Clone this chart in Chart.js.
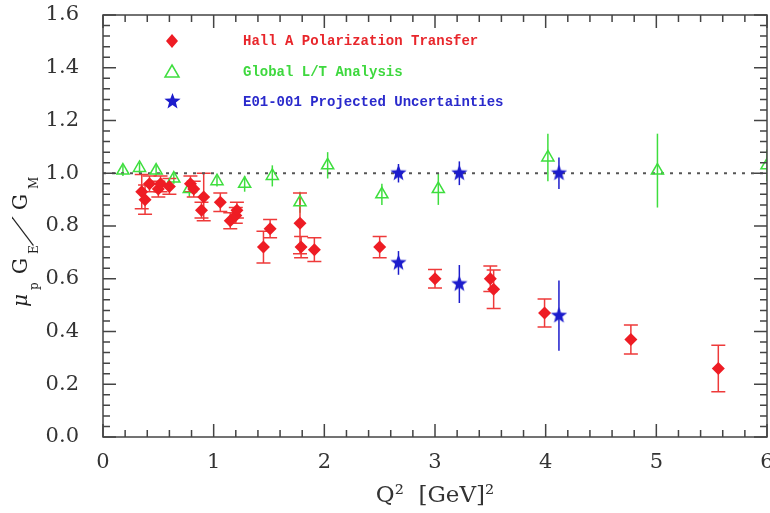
<!DOCTYPE html>
<html>
<head>
<meta charset="utf-8">
<script src="https://cdn.jsdelivr.net/npm/chart.js@4"></script>
<style>
  body { margin: 0; background: #fff; }
  #wrap { width: 770px; height: 513px; }
</style>
</head>
<body>
<div id="wrap"><canvas id="ratioChart" width="770" height="513"></canvas></div>
<script>
// Hall A polarization transfer (red diamonds)
const hallQ2    = [0.35, 0.38, 0.42, 0.50, 0.52, 0.60, 0.79, 0.82, 0.89, 0.91, 1.06, 1.15, 1.20, 1.21, 1.45, 1.51, 1.78, 1.79, 1.91, 2.50, 3.00, 3.50, 3.53, 3.99, 4.77, 5.56];
const hallRatio = [0.93, 0.90, 0.96, 0.94, 0.96, 0.95, 0.96, 0.94, 0.86, 0.91, 0.89, 0.82, 0.84, 0.86, 0.72, 0.79, 0.81, 0.72, 0.71, 0.72, 0.60, 0.60, 0.56, 0.47, 0.37, 0.26];
const hallErr   = [0.065, 0.055, 0.03, 0.03, 0.03, 0.03, 0.03, 0.03, 0.03, 0.09, 0.035, 0.03, 0.03, 0.03, 0.06, 0.035, 0.115, 0.04, 0.045, 0.04, 0.035, 0.048, 0.073, 0.053, 0.055, 0.088];

// Global L/T analysis (green open triangles)
const ltQ2    = [0.18, 0.33, 0.48, 0.64, 0.78, 1.03, 1.28, 1.53, 1.78, 2.03, 2.52, 3.03, 4.02, 5.01, 6.00];
const ltRatio = [1.01, 1.02, 1.01, 0.98, 0.94, 0.97, 0.96, 0.99, 0.89, 1.03, 0.92, 0.94, 1.06, 1.01, 1.03];
const ltErr   = [0.02, 0.02, 0.02, 0.02, 0.03, 0.02, 0.03, 0.04, 0.04, 0.05, 0.04, 0.06, 0.09, 0.14, 0.06];

// E01-001 projected uncertainties (blue stars)
const projQ2    = [2.67, 3.22, 4.12, 2.67, 3.22, 4.12];
const projRatio = [1.00, 1.00, 1.00, 0.66, 0.58, 0.46];
const projErr   = [0.035, 0.045, 0.06, 0.045, 0.072, 0.133];

const legendLabels = ['Hall A Polarization Transfer', 'Global L/T Analysis', 'E01-001 Projected Uncertainties'];
const xTicks = [0, 1, 2, 3, 4, 5, 6];
const yTicks = [0.0, 0.2, 0.4, 0.6, 0.8, 1.0, 1.2, 1.4, 1.6];

const RED = '#ee1c24', RED_BAR = '#ee3a3a', GREEN = '#3ede3e', BLUE = '#1c1ccc';

function makeStar(color, size) {
    const c = document.createElement('canvas');
    c.width = size; c.height = size;
    const g = c.getContext('2d');
    const r = size / 2, ri = r * 0.42;
    g.beginPath();
    for (let i = 0; i < 10; i++) {
        const a = -Math.PI / 2 + i * Math.PI / 5;
        const rr = i % 2 ? ri : r;
        g.lineTo(r + rr * Math.cos(a), r + rr * Math.sin(a));
    }
    g.closePath();
    g.fillStyle = color;
    g.fill();
    return c;
}
const starImg = makeStar(BLUE, 17);

function toPoints(xs, ys) {
    return xs.map((x, i) => ({ x: x, y: ys[i] }));
}

// error bars drawn under the markers
const errorBars = {
    id: 'errorBars',
    beforeDatasetsDraw(chart) {
        const ctx = chart.ctx, xs = chart.scales.x, ys = chart.scales.y;
        const groups = [
            { q: ltQ2, r: ltRatio, e: ltErr, color: GREEN, cap: 0 },
            { q: projQ2, r: projRatio, e: projErr, color: BLUE, cap: 0 },
            { q: hallQ2, r: hallRatio, e: hallErr, color: RED_BAR, cap: 7 }
        ];
        ctx.save();
        ctx.beginPath();
        ctx.rect(chart.chartArea.left, chart.chartArea.top, chart.chartArea.width, chart.chartArea.height);
        ctx.clip();
        ctx.lineWidth = 1.5;
        groups.forEach(g => {
            ctx.strokeStyle = g.color;
            g.q.forEach((q, i) => {
                const px = xs.getPixelForValue(q);
                const y1 = ys.getPixelForValue(g.r[i] + g.e[i]);
                const y2 = ys.getPixelForValue(g.r[i] - g.e[i]);
                ctx.beginPath();
                ctx.moveTo(px, y1); ctx.lineTo(px, y2);
                if (g.cap) {
                    ctx.moveTo(px - g.cap, y1); ctx.lineTo(px + g.cap, y1);
                    ctx.moveTo(px - g.cap, y2); ctx.lineTo(px + g.cap, y2);
                }
                ctx.stroke();
            });
        });
        ctx.restore();
    }
};

// frame with inward major/minor ticks on all four sides, legend and y title
const frameAndText = {
    id: 'frameAndText',
    afterDraw(chart) {
        const ctx = chart.ctx, a = chart.chartArea;
        const xs = chart.scales.x, ys = chart.scales.y;
        ctx.save();
        ctx.strokeStyle = '#444';
        ctx.lineWidth = 1.5;
        ctx.strokeRect(a.left, a.top, a.width, a.height);
        ctx.beginPath();
        for (let i = 0; i <= 30; i++) {
            const px = xs.getPixelForValue(i * 0.2);
            const len = i % 5 === 0 ? 13 : 7;
            ctx.moveTo(px, a.bottom); ctx.lineTo(px, a.bottom - len);
            ctx.moveTo(px, a.top); ctx.lineTo(px, a.top + len);
        }
        for (let i = 0; i <= 40; i++) {
            const py = ys.getPixelForValue(i * 0.04);
            const len = i % 5 === 0 ? 13 : 7;
            ctx.moveTo(a.left, py); ctx.lineTo(a.left + len, py);
            ctx.moveTo(a.right, py); ctx.lineTo(a.right - len, py);
        }
        ctx.stroke();

        // legend
        const lx = 172, rows = [41, 72, 102];
        ctx.fillStyle = RED;
        ctx.beginPath();
        ctx.moveTo(lx, rows[0] - 7); ctx.lineTo(lx + 6, rows[0]);
        ctx.lineTo(lx, rows[0] + 7); ctx.lineTo(lx - 6, rows[0]);
        ctx.closePath(); ctx.fill();
        ctx.strokeStyle = GREEN; ctx.lineWidth = 1.5;
        ctx.beginPath();
        ctx.moveTo(lx, rows[1] - 7); ctx.lineTo(lx + 7, rows[1] + 5);
        ctx.lineTo(lx - 7, rows[1] + 5); ctx.closePath(); ctx.stroke();
        ctx.drawImage(starImg, lx - 8, rows[2] - 9);

        ctx.font = 'bold 14px "Liberation Mono"';
        ctx.textBaseline = 'middle';
        ctx.textAlign = 'left';
        const cols = ['#e8262b', '#3ed83e', '#2a2acc'];
        legendLabels.forEach((t, i) => {
            ctx.fillStyle = cols[i];
            ctx.fillText(t, 243, rows[i]);
        });

        // y axis title: mu_p G_E / G_M
        ctx.translate(27, 307);
        ctx.rotate(-Math.PI / 2);
        ctx.fillStyle = '#222';
        ctx.textBaseline = 'alphabetic';
        ctx.font = 'italic 20px "DejaVu Serif"';
        ctx.fillText('\u03bc', 0, 0);
        ctx.font = '12px "DejaVu Serif"';
        ctx.fillText('p', 17, 11);
        ctx.font = '20px "DejaVu Serif"';
        ctx.fillText('G', 33, 0);
        ctx.font = '12px "DejaVu Serif"';
        ctx.fillText('E', 53, 11);
        ctx.save();
        ctx.transform(1, 0, -1.0, 1, 63, 4);
        ctx.font = '26px "DejaVu Serif"';
        ctx.fillText('/', 0, 0);
        ctx.restore();
        ctx.font = '20px "DejaVu Serif"';
        ctx.fillText('G', 97, 0);
        ctx.font = '12px "DejaVu Serif"';
        ctx.fillText('M', 118, 11);
        ctx.restore();
    }
};

new Chart(document.getElementById('ratioChart'), {
    type: 'scatter',
    data: {
        datasets: [
            {
                label: legendLabels[2],
                data: toPoints(projQ2, projRatio),
                pointStyle: starImg,
                order: 0
            },
            {
                label: legendLabels[0],
                data: toPoints(hallQ2, hallRatio),
                pointStyle: 'rectRot',
                pointRadius: 6.5,
                backgroundColor: RED,
                borderColor: RED,
                borderWidth: 0,
                order: 1
            },
            {
                label: legendLabels[1],
                data: toPoints(ltQ2, ltRatio),
                pointStyle: 'triangle',
                pointRadius: 7,
                backgroundColor: 'rgba(0,0,0,0)',
                borderColor: GREEN,
                borderWidth: 1.5,
                order: 2
            },
            {
                type: 'line',
                label: 'unity',
                data: [{ x: 0, y: 1 }, { x: 6, y: 1 }],
                borderColor: '#555',
                borderWidth: 2,
                borderDash: [3, 6],
                pointRadius: 0,
                order: 10
            }
        ]
    },
    options: {
        responsive: false,
        animation: false,
        devicePixelRatio: 1,
        layout: { autoPadding: false, padding: { top: 15, right: 3, left: 0, bottom: 0 } },
        plugins: {
            legend: { display: false },
            tooltip: { enabled: false }
        },
        scales: {
            x: {
                type: 'linear',
                min: 0,
                max: 6,
                afterBuildTicks: s => { s.ticks = xTicks.map(v => ({ value: v })); },
                grid: { display: false, drawTicks: false },
                border: { display: false },
                ticks: {
                    color: '#333',
                    padding: 13,
                    font: { family: 'DejaVu Serif', size: 21 },
                    callback: v => String(v)
                },
                title: {
                    display: true,
                    text: 'Q\u00b2  [GeV]\u00b2',
                    color: '#333',
                    font: { family: 'DejaVu Serif', size: 23 },
                    padding: { top: 0, bottom: 3 }
                },
                afterFit: s => { s.height = 76; s.paddingLeft = 0; s.paddingRight = 0; }
            },
            y: {
                min: 0,
                max: 1.6,
                afterBuildTicks: s => { s.ticks = yTicks.map(v => ({ value: v })); },
                grid: { display: false, drawTicks: false },
                border: { display: false },
                ticks: {
                    color: '#333',
                    padding: 24,
                    font: { family: 'DejaVu Serif', size: 21 },
                    callback: v => v.toFixed(1)
                },
                afterFit: s => { s.width = 103; s.paddingTop = 0; s.paddingBottom = 0; }
            }
        }
    },
    plugins: [errorBars, frameAndText]
});
</script>
</body>
</html>
